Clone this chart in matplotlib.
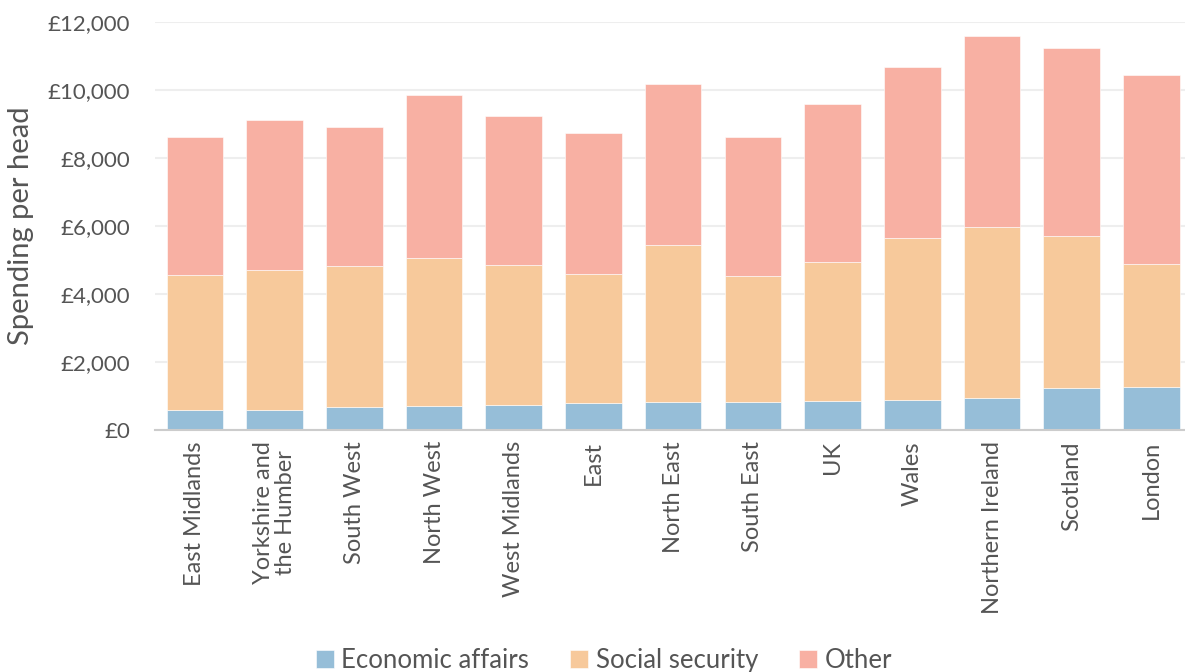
import numpy as np
import matplotlib.pyplot as plt
from matplotlib.ticker import FuncFormatter

regions = ['East Midlands', 'Yorkshire and\nthe Humber', 'South West', 'North West',
           'West Midlands', 'East', 'North East', 'South East', 'UK', 'Wales',
           'Northern Ireland', 'Scotland', 'London']
economic = [600, 600, 688, 707, 737, 796, 815, 835, 855, 874, 953, 1248, 1257]
social = [3948, 4105, 4135, 4362, 4116, 3801, 4637, 3703, 4086, 4765, 5029, 4469, 3635]
other = [4057, 4421, 4096, 4793, 4391, 4136, 4725, 4067, 4656, 5029, 5619, 5531, 5540]

c_econ = '#96bed8'
c_soc = '#f7c99b'
c_oth = '#f8b0a3'
grey = '#555555'

plt.rcParams['font.family'] = ['Lato', 'DejaVu Sans']

fig = plt.figure(figsize=(11.85, 6.72), dpi=100)
ax = fig.add_axes([155 / 1185, 1 - 430 / 672, 1 - 155 / 1185, (430 - 22) / 672])

x = np.arange(len(regions))
w = 0.71
econ = np.array(economic)
soc = np.array(social)
oth = np.array(other)
ax.bar(x, econ, w, color=c_econ, label='Economic affairs', zorder=3, edgecolor='white', linewidth=0.4)
ax.bar(x, soc, w, bottom=econ, color=c_soc, label='Social security', zorder=3, edgecolor='white', linewidth=0.4)
ax.bar(x, oth, w, bottom=econ + soc, color=c_oth, label='Other', zorder=3, edgecolor='white', linewidth=0.4)

ax.set_xlim(-0.5, 12.42)
ax.set_ylim(0, 12000)
ax.set_yticks(np.arange(0, 12001, 2000))
ax.yaxis.set_major_formatter(FuncFormatter(lambda v, p: '£{:,.0f}'.format(v)))
ax.grid(axis='y', color='#eeeeee', linewidth=1.5, zorder=0)
for s in ['top', 'right', 'left']:
    ax.spines[s].set_visible(False)
ax.spines['bottom'].set_color('#cccccc')
ax.spines['bottom'].set_linewidth(1.5)
ax.spines['bottom'].set_zorder(4)
ax.tick_params(length=0, colors=grey)
ax.tick_params(axis='y', labelsize=16, pad=18)
ax.tick_params(axis='x', labelsize=17, pad=8)
ax.set_xticks(x)
ax.set_xticklabels(regions, rotation=90, va='top', ha='center', linespacing=1.05)
ax.set_ylabel('Spending per head', fontsize=21, color=grey, labelpad=10)

ax.legend(loc='lower center', bbox_to_anchor=(0.436, -0.652), ncol=3, frameon=False,
          fontsize=18.5, labelcolor=grey, handlelength=0.7, handleheight=0.7,
          handletextpad=0.3, columnspacing=1.6)

fig.savefig('out.png', dpi=100)
